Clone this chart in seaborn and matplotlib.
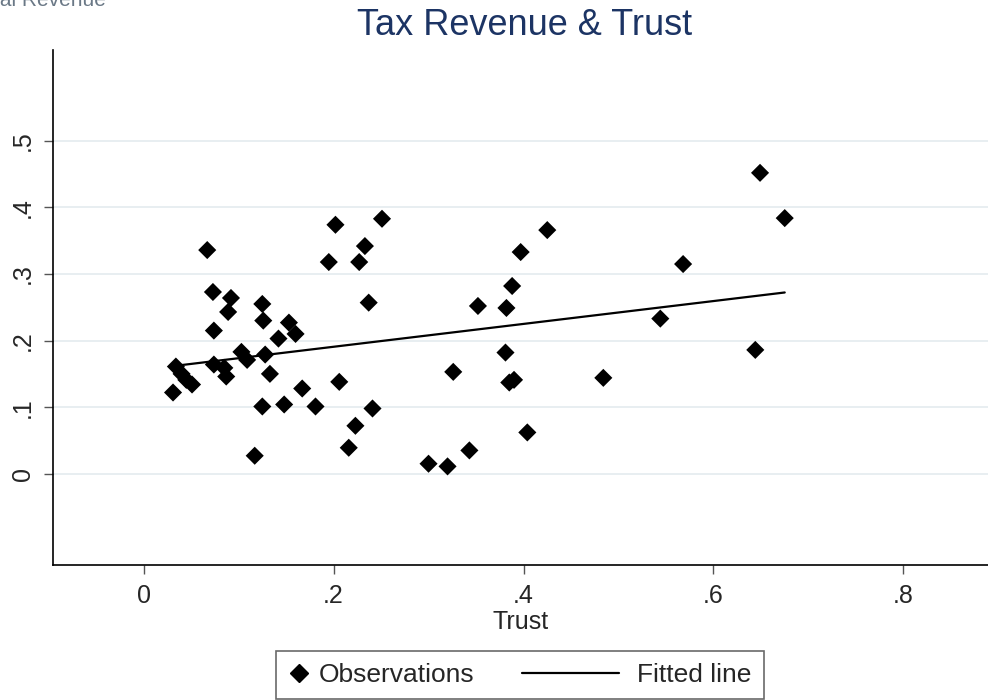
import numpy as np
import pandas as pd
import seaborn as sns
import matplotlib.pyplot as plt
from matplotlib.lines import Line2D
from matplotlib.legend_handler import HandlerBase

trust = [0.031, 0.034, 0.040, 0.045, 0.051, 0.067, 0.073, 0.074, 0.074, 0.085,
         0.087, 0.092, 0.089, 0.103, 0.109, 0.117, 0.125, 0.126, 0.128, 0.125,
         0.133, 0.142, 0.148, 0.153, 0.160, 0.167, 0.181, 0.195, 0.202, 0.206,
         0.216, 0.223, 0.227, 0.233, 0.237, 0.241, 0.251, 0.300, 0.320, 0.326,
         0.343, 0.352, 0.382, 0.388, 0.397, 0.425, 0.381, 0.385, 0.390, 0.404,
         0.484, 0.544, 0.568, 0.644, 0.649, 0.675]
revenue = [0.122, 0.161, 0.150, 0.141, 0.134, 0.336, 0.273, 0.215, 0.164, 0.159,
           0.146, 0.264, 0.243, 0.183, 0.171, 0.027, 0.255, 0.230, 0.179, 0.101,
           0.150, 0.203, 0.104, 0.227, 0.210, 0.128, 0.101, 0.318, 0.374, 0.138,
           0.039, 0.072, 0.318, 0.342, 0.257, 0.098, 0.383, 0.015, 0.011, 0.153,
           0.035, 0.252, 0.249, 0.282, 0.333, 0.366, 0.182, 0.137, 0.141, 0.062,
           0.144, 0.233, 0.315, 0.186, 0.452, 0.384]
x_ticks = [0, 0.2, 0.4, 0.6, 0.8]
x_labels = ["0", ".2", ".4", ".6", ".8"]
y_ticks = [0, 0.1, 0.2, 0.3, 0.4, 0.5]
y_labels = ["0", ".1", ".2", ".3", ".4", ".5"]

df = pd.DataFrame({"trust": trust, "revenue": revenue})

sns.set_style("white")
plt.rcParams["font.family"] = ["Liberation Sans", "DejaVu Sans"]

fig = plt.figure(figsize=(9.88, 7), dpi=100)
ax = fig.add_axes([0.054, 0.193, 0.946, 0.736])

sns.scatterplot(data=df, x="trust", y="revenue", marker="D", color="black",
                s=85, edgecolor="none", ax=ax)
sns.regplot(data=df, x="trust", y="revenue", scatter=False, ci=None,
            color="black", line_kws={"lw": 1.6}, ax=ax)

ax.set_xlim(-0.095, 0.889)
ax.set_ylim(-0.137, 0.637)
ax.set_xticks(x_ticks)
ax.set_xticklabels(x_labels, fontsize=18)
ax.set_yticks(y_ticks)
ax.set_yticklabels(y_labels, fontsize=18, rotation=90, va="center")
ax.grid(axis="y", color="#e6edf0", lw=1.3)
ax.set_axisbelow(True)
ax.tick_params(axis="both", direction="out", length=6.5, width=1, color="#555555",
               bottom=True, left=True)
ax.tick_params(axis="x", pad=7)
ax.tick_params(axis="y", pad=7)
for side in ["top", "right"]:
    ax.spines[side].set_visible(False)
for side in ["left", "bottom"]:
    ax.spines[side].set_color("black")
    ax.spines[side].set_linewidth(1.2)

ax.set_xlabel("Trust", fontsize=18, labelpad=2)
ax.set_ylabel("")

fig.text(0.531, 0.964, "Tax Revenue & Trust", ha="center", va="center",
         fontsize=26, color="#1c3464")
# y-axis title, partly outside the image as in the source
fig.text(-0.028, 0.999, "Total Revenue", ha="left", va="center",
         fontsize=15, color="#6a7886")


# diamond sits at the right of its (short) handle box
class DiamondHandler(HandlerBase):
    def create_artists(self, legend, orig, xd, yd, width, height, fontsize, trans):
        m = Line2D([width - 7], [height / 2 - yd], marker="D", color="black",
                   linestyle="none", markersize=9, transform=trans)
        return [m]


# long line reaching back to the left of its handle box
class LongLineHandler(HandlerBase):
    def create_artists(self, legend, orig, xd, yd, width, height, fontsize, trans):
        y = height / 2 - yd
        ln = Line2D([-61, 9.4], [y, y], color="black", lw=1.6, transform=trans)
        return [ln]


h_obs = Line2D([], [], marker="D", color="black", linestyle="none")
h_fit = Line2D([], [], color="black")
leg = fig.legend([h_obs, h_fit], ["Observations", "Fitted line"],
                 handler_map={h_obs: DiamondHandler(), h_fit: LongLineHandler()},
                 loc="lower center", bbox_to_anchor=(0.526, 0.0), ncol=2,
                 fontsize=19, frameon=True, fancybox=False, edgecolor="#444444",
                 handlelength=0.8, columnspacing=5.0, handletextpad=0.38,
                 borderpad=0.45, borderaxespad=0.05)
leg.get_frame().set_linewidth(1.2)

fig.savefig("out.png", dpi=100, facecolor="white")
